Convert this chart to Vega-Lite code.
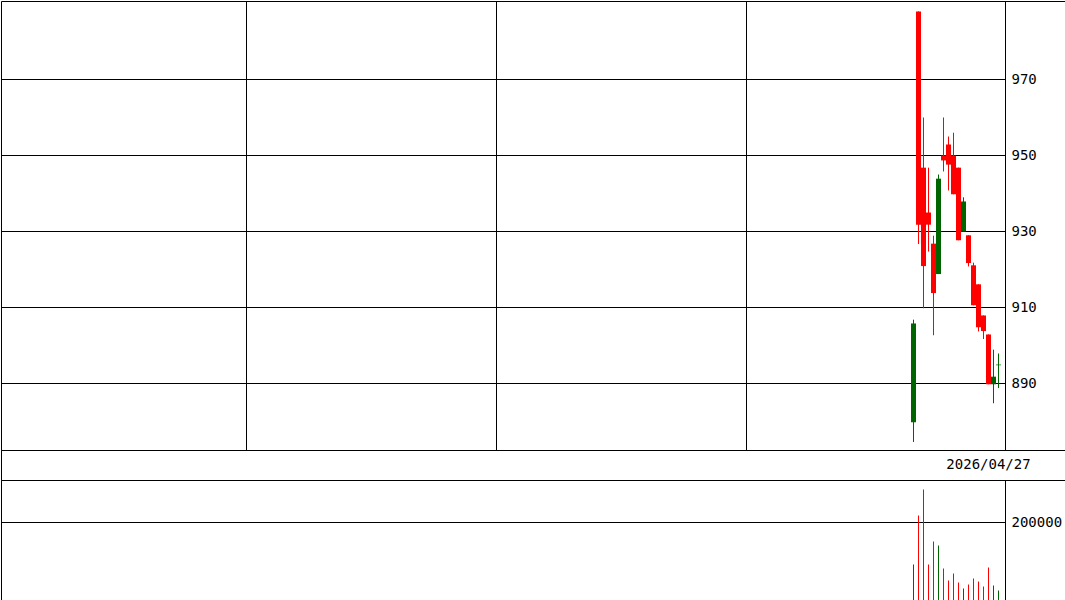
{
  "$schema": "https://vega.github.io/schema/vega-lite/v6.json",
  "description": "Daily candlestick chart with volume, last date 2026/04/27",
  "padding": 0,
  "background": "white",
  "spacing": 0,
  "bounds": "flush",
  "datasets": {
    "candles": [
      {"n": 182, "o": 879.8, "h": 906.8, "l": 874.6, "c": 905.8, "v": 91600},
      {"n": 183, "o": 987.9, "h": 987.9, "l": 926.7, "c": 931.8, "v": 218000},
      {"n": 184, "o": 946.8, "h": 960.0, "l": 909.8, "c": 920.9, "v": 285000},
      {"n": 185, "o": 935.0, "h": 946.8, "l": 924.7, "c": 931.8, "v": 91600},
      {"n": 186, "o": 926.8, "h": 928.9, "l": 902.7, "c": 913.8, "v": 151000},
      {"n": 187, "o": 918.8, "h": 945.0, "l": 918.8, "c": 943.9, "v": 140600},
      {"n": 188, "o": 950.0, "h": 960.0, "l": 945.8, "c": 948.7, "v": 81300},
      {"n": 189, "o": 952.9, "h": 955.0, "l": 940.8, "c": 947.6, "v": 50300},
      {"n": 190, "o": 950.0, "h": 956.0, "l": 939.8, "c": 939.8, "v": 68400},
      {"n": 191, "o": 946.8, "h": 946.8, "l": 927.7, "c": 927.7, "v": 45200},
      {"n": 192, "o": 930.0, "h": 939.0, "l": 930.0, "c": 937.9, "v": 29700},
      {"n": 193, "o": 929.0, "h": 929.0, "l": 920.8, "c": 921.7, "v": 40000},
      {"n": 194, "o": 921.1, "h": 921.8, "l": 910.6, "c": 910.6, "v": 55500},
      {"n": 195, "o": 916.1, "h": 916.1, "l": 903.7, "c": 904.8, "v": 47700},
      {"n": 196, "o": 907.9, "h": 907.9, "l": 901.7, "c": 903.8, "v": 34800},
      {"n": 197, "o": 902.9, "h": 902.9, "l": 889.8, "c": 889.8, "v": 83900},
      {"n": 198, "o": 889.8, "h": 898.9, "l": 884.8, "c": 891.8, "v": 37400},
      {"n": 199, "o": 894.9, "h": 897.9, "l": 888.8, "c": 894.9, "v": 24500}
    ],
    "grid": [{"p": 890}, {"p": 910}, {"p": 930}, {"p": 950}, {"p": 970}],
    "volgrid": [{"v": 200000}],
    "label": [{"n": 197, "date": "2026/04/27"}]
  },
  "config": {
    "view": {"stroke": "black", "strokeWidth": 1},
    "scale": {"continuousPadding": 0},
    "axis": {
      "domain": false,
      "ticks": false,
      "grid": false,
      "labelFont": "DejaVu Sans Mono",
      "labelFontSize": 14,
      "labelColor": "black"
    },
    "axisX": {"labels": false, "grid": true, "gridColor": "black", "gridOpacity": 1, "gridWidth": 1},
    "axisY": {"labelPadding": 6, "labelAlign": "left", "labelBaseline": "middle"}
  },
  "resolve": {"scale": {"x": "independent", "y": "independent"}},
  "vconcat": [
    {
      "width": 1064,
      "height": 449,
      "layer": [
        {
          "data": {"name": "grid"},
          "mark": {"type": "rule", "color": "black", "strokeWidth": 1},
          "encoding": {
            "y": {
              "field": "p",
              "type": "quantitative",
              "title": null,
              "scale": {"domain": [872.5, 990.658], "nice": false, "zero": false},
              "axis": {"orient": "right", "offset": -60, "values": [890, 910, 930, 950, 970]}
            },
            "x": {
              "datum": -0.5,
              "type": "quantitative",
              "title": null,
              "scale": {"domain": [-0.5, 212.3], "nice": false, "zero": false, "padding": 0},
              "axis": {"values": [48.5, 98.5, 148.5, 200.3]}
            },
            "x2": {"datum": 200.3}
          }
        },
        {
          "data": {"name": "candles"},
          "mark": {"type": "rule", "strokeWidth": 1},
          "encoding": {
            "x": {"field": "n", "type": "quantitative", "title": null},
            "y": {"field": "l", "type": "quantitative", "title": null},
            "y2": {"field": "h"},
            "color": {"condition": {"test": "datum.c < datum.o", "value": "#ff0000"}, "value": "#006400"}
          }
        },
        {
          "data": {"name": "candles"},
          "mark": {"type": "bar", "size": 5},
          "encoding": {
            "x": {"field": "n", "type": "quantitative", "title": null},
            "y": {"field": "o", "type": "quantitative", "title": null},
            "y2": {"field": "c"},
            "color": {"condition": {"test": "datum.c < datum.o", "value": "#ff0000"}, "value": "#006400"}
          }
        },
        {
          "data": {"name": "candles"},
          "transform": [{"filter": "datum.o == datum.c"}],
          "mark": {"type": "tick", "orient": "horizontal", "thickness": 1, "size": 5},
          "encoding": {
            "x": {"field": "n", "type": "quantitative", "title": null},
            "y": {"field": "c", "type": "quantitative", "title": null},
            "color": {"value": "#006400"}
          }
        }
      ]
    },
    {
      "width": 1064,
      "height": 30,
      "data": {"name": "label"},
      "mark": {"type": "text", "font": "DejaVu Sans Mono", "fontSize": 14, "color": "black", "baseline": "middle", "align": "center"},
      "encoding": {
        "x": {
          "field": "n",
          "type": "quantitative",
          "axis": null,
          "scale": {"domain": [-0.5, 212.3], "nice": false, "zero": false, "padding": 0}
        },
        "text": {"field": "date"}
      }
    },
    {
      "width": 1064,
      "height": 120,
      "layer": [
        {
          "data": {"name": "volgrid"},
          "mark": {"type": "rule", "color": "black", "strokeWidth": 1},
          "encoding": {
            "y": {
              "field": "v",
              "type": "quantitative",
              "title": null,
              "scale": {"domain": [0, 309700], "nice": false, "zero": false},
              "axis": {"orient": "right", "offset": -60, "values": [200000], "format": "d"}
            },
            "x": {
              "datum": -0.5,
              "type": "quantitative",
              "title": null,
              "scale": {"domain": [-0.5, 212.3], "nice": false, "zero": false, "padding": 0},
              "axis": {"values": [200.3]}
            },
            "x2": {"datum": 200.3}
          }
        },
        {
          "data": {"name": "candles"},
          "mark": {"type": "bar", "size": 1},
          "encoding": {
            "x": {"field": "n", "type": "quantitative", "title": null},
            "y": {"field": "v", "type": "quantitative", "title": null},
            "color": {"condition": {"test": "datum.c < datum.o", "value": "#ff0000"}, "value": "#006400"}
          }
        }
      ]
    }
  ]
}
